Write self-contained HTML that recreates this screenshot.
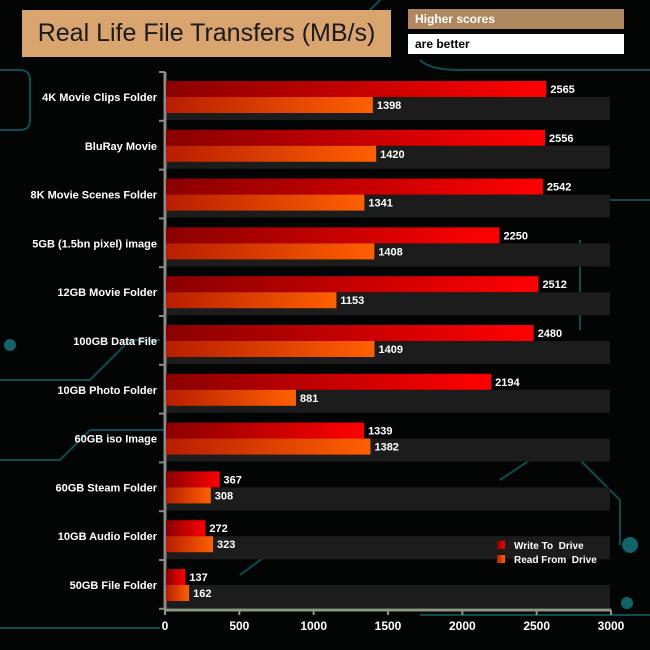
<!DOCTYPE html>
<html><head><meta charset="utf-8"><style>
body{margin:0;background:#000;}
#wrap{position:relative;width:650px;height:650px;background:#030505;overflow:hidden;font-family:"Liberation Sans",sans-serif;}
.box{position:absolute;}
</style></head><body>
<div id="wrap">
<svg id="bg" width="650" height="650" style="position:absolute;left:0;top:0">
<g fill="none" stroke="#0c4d50" stroke-width="2">
<path d="M0 70 H20 Q30 70 30 80 V120 Q30 130 20 130 H0"/>
<path d="M0 380 H90 L130 340 H160"/>
<path d="M0 460 H60 L90 430 H165"/>
<path d="M610 200 H650"/><path d="M580 240 V330"/>
<path d="M560 440 L620 500 V545"/><path d="M500 480 L560 440"/>
<path d="M240 575 L270 553 H500"/><path d="M0 628 H160"/><path d="M420 615 H650"/>
<path d="M420 60 Q430 70 460 70 H650"/><path d="M380 0 L360 20"/>
</g>
<g fill="#0e6468"><circle cx="630" cy="545" r="8"/><circle cx="627" cy="603" r="6"/><circle cx="10" cy="345" r="6"/></g>
</svg>
<div class="box" style="left:22px;top:10px;width:369px;height:47px;background:#d9a46e;color:#1a1a1a;font-size:25px;line-height:47px;text-align:center;font-weight:normal;">Real Life File Transfers (MB/s)</div>
<div class="box" style="left:408px;top:9px;width:216px;height:20px;background:#b08860;color:#fff;font-size:12px;font-weight:bold;line-height:20px;padding-left:7px;box-sizing:border-box;">Higher scores</div>
<div class="box" style="left:408px;top:34px;width:216px;height:20px;background:#fff;color:#000;font-size:12px;font-weight:bold;line-height:20px;padding-left:7px;box-sizing:border-box;">are better</div>
<svg id="chart" width="650" height="650" style="position:absolute;left:0;top:0">
<defs>
<linearGradient id="gw" x1="0" x2="1"><stop offset="0" stop-color="#8a0000"/><stop offset="1" stop-color="#ff0000"/></linearGradient>
<linearGradient id="gr" x1="0" x2="1"><stop offset="0" stop-color="#b81e00"/><stop offset="1" stop-color="#ff6000"/></linearGradient>
</defs>
</svg>
</div>
<script>
const categories=["4K Movie Clips Folder","BluRay Movie","8K Movie Scenes Folder","5GB (1.5bn pixel) image","12GB Movie Folder","100GB Data File","10GB Photo Folder","60GB iso Image","60GB Steam Folder","10GB Audio Folder","50GB File Folder"];
const writeValues=[2565,2556,2542,2250,2512,2480,2194,1339,367,272,137];
const readValues=[1398,1420,1341,1408,1153,1409,881,1382,308,323,162];
const tickLabels=[0,500,1000,1500,2000,2500,3000];
const seriesNames=["Write To  Drive","Read From  Drive"];

const svg=document.getElementById('chart');
const NS='http://www.w3.org/2000/svg';
const x0=165,x1=611,top0=81,pitch=48.8,barH=16,axisY=610,maxV=3000;
const xs=v=>x0+(v/maxV)*(x1-x0);
function mk(tag,attrs){const e=document.createElementNS(NS,tag);for(const k in attrs)e.setAttribute(k,attrs[k]);svg.appendChild(e);return e;}
categories.forEach((c,i)=>{
  const wy=top0+i*pitch;
  const band=mk('rect',{x:x0,y:wy+barH,width:x1-x0-1,height:23,fill:'#1c1c1c'});
  
  
});
const yaxis=mk('line',{x1:x0,x2:x0,y1:72,y2:axisY,stroke:'#8a8a8a','stroke-width':3});


for(let i=0;i<=categories.length;i++){
  const t=mk('line',{x1:x0-6,x2:x0,y1:72+i*pitch,y2:72+i*pitch,stroke:'#8a8a8a','stroke-width':2});
  
  
}
categories.forEach((c,i)=>{
  const wy=top0+i*pitch;
  const lab=mk('text',{x:157,y:wy+barH+4,fill:'#fff','font-size':11,'font-weight':'bold','text-anchor':'end','font-family':'Liberation Sans, sans-serif'});
  lab.textContent=c;
  
  
  const wb=mk('rect',{x:x0+1,y:wy,width:xs(writeValues[i])-x0-1,height:barH,fill:'url(#gw)'});
  
  
  const rb=mk('rect',{x:x0+1,y:wy+barH,width:xs(readValues[i])-x0-1,height:barH,fill:'url(#gr)'});
  
  
  const wv=mk('text',{x:xs(writeValues[i])+4,y:wy+12,fill:'#fff','font-size':11,'font-weight':'bold','font-family':'Liberation Sans, sans-serif'});
  wv.textContent=writeValues[i];
  
  
  const rv=mk('text',{x:xs(readValues[i])+4,y:wy+barH+12,fill:'#fff','font-size':11,'font-weight':'bold','font-family':'Liberation Sans, sans-serif'});
  rv.textContent=readValues[i];
  
  
});
const xaxis=mk('line',{x1:x0,x2:x1,y1:axisY,y2:axisY,stroke:'#8a9a80','stroke-width':3});


tickLabels.forEach(v=>{
  const t=mk('line',{x1:xs(v),x2:xs(v),y1:axisY,y2:axisY+5,stroke:'#8a9a80','stroke-width':2});
  
  
  const l=mk('text',{x:xs(v),y:axisY+20,fill:'#fff','font-size':12,'font-weight':'bold','text-anchor':'middle','font-family':'Liberation Sans, sans-serif'});
  l.textContent=v;
  
  
});
const fills=['url(#gw)','url(#gr)'];
seriesNames.forEach((n,i)=>{
  const s=mk('rect',{x:497,y:541+i*14,width:8,height:8,fill:fills[i]});
  
  
  const t=mk('text',{x:514,y:549+i*14,fill:'#fff','font-size':10,'font-weight':'bold','font-family':'Liberation Sans, sans-serif'});
  t.textContent=n;
  t.style.whiteSpace='pre';
  
  
});
</script>
</body></html>
